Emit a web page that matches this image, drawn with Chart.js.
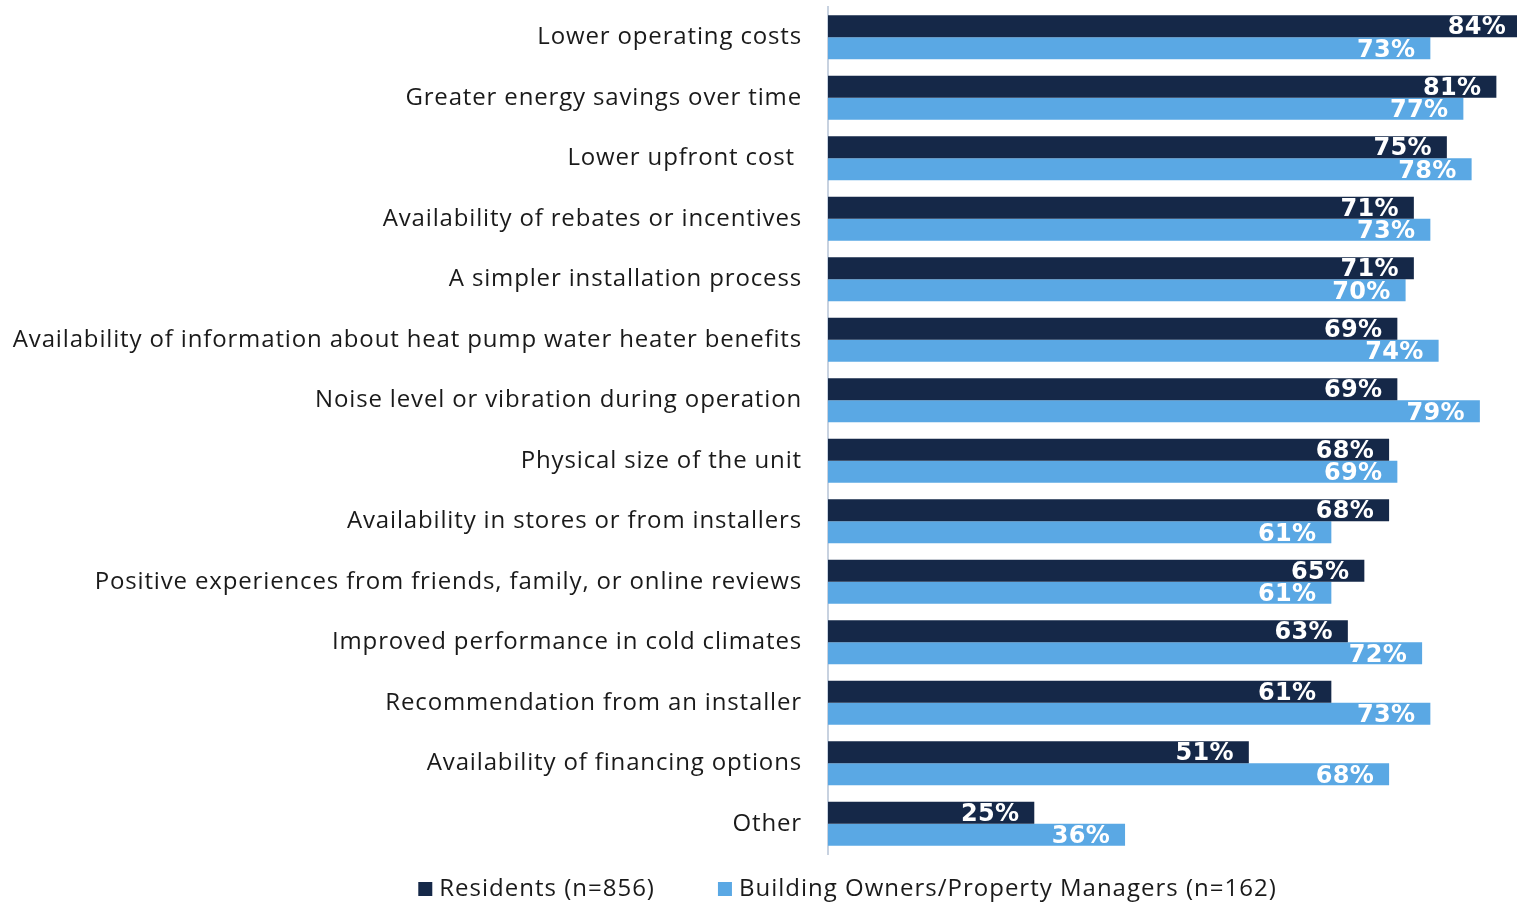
<!DOCTYPE html>
<html>
<head>
<meta charset="utf-8">
<script src="https://cdn.jsdelivr.net/npm/chart.js@4"></script>
<style>
  html, body { margin:0; padding:0; background:#fff; }
  #wrap { width:1517px; height:903px; }
</style>
</head>
<body>
<div id="wrap"><canvas id="grafico"></canvas></div>
<script>
// Datos
const categorias = [
  "Lower operating costs",
  "Greater energy savings over time",
  "Lower upfront cost ",
  "Availability of rebates or incentives",
  "A simpler installation process",
  "Availability of information about heat pump water heater benefits",
  "Noise level or vibration during operation",
  "Physical size of the unit",
  "Availability in stores or from installers",
  "Positive experiences from friends, family, or online reviews",
  "Improved performance in cold climates",
  "Recommendation from an installer",
  "Availability of financing options",
  "Other"
];
const residentes   = [84, 81, 75, 71, 71, 69, 69, 68, 68, 65, 63, 61, 51, 25]; // %
const propietarios = [73, 77, 78, 73, 70, 74, 79, 69, 61, 61, 72, 73, 68, 36]; // %
const series = ['Residents (n=856)', 'Building Owners/Property Managers (n=162)'];
const colores = ['#152848', '#5aa8e4'];

const FUENTE = "'Open Sans', Lato, sans-serif";

// espaciado de letras un poco más abierto (la fuente original es más ancha)
const espaciado = {
  id: 'espaciado',
  beforeDraw(chart) { chart.ctx.letterSpacing = '0.85px'; },
  afterDraw(chart) { chart.ctx.letterSpacing = '0px'; }
};

// Etiquetas de valor dentro de la barra
const etiquetas = {
  id: 'etiquetas',
  afterDatasetsDraw(chart) {
    const ctx = chart.ctx;
    ctx.save();
    ctx.letterSpacing = '0.3px';
    ctx.font = "bold 24px 'DejaVu Sans', sans-serif";
    ctx.fillStyle = '#ffffff';
    ctx.textAlign = 'right';
    ctx.textBaseline = 'middle';
    chart.data.datasets.forEach((ds, i) => {
      chart.getDatasetMeta(i).data.forEach((el, j) => {
        ctx.fillText(ds.data[j] + '%', el.x - 15, el.y + 2);
      });
    });
    ctx.restore();
  }
};

// Leyenda inferior dibujada a mano (espaciado como el original)
const leyenda = {
  id: 'leyenda',
  afterDraw(chart) {
    const ctx = chart.ctx;
    ctx.save();
    ctx.letterSpacing = '1px';
    ctx.font = "24px " + FUENTE;
    ctx.textBaseline = 'middle';
    const caja = 14, sep = 7, hueco = 63;
    const anchos = chart.data.datasets.map(ds => ctx.measureText(ds.label).width);
    const total = anchos.reduce((a, w) => a + caja + sep + w, 0) + hueco * (anchos.length - 1);
    let x = chart.width / 2 + 89 - total / 2;
    const y = chart.height - 14;
    chart.data.datasets.forEach((ds, i) => {
      ctx.fillStyle = ds.backgroundColor;
      ctx.fillRect(x, y - caja / 2, caja, caja);
      ctx.fillStyle = '#1a1a1a';
      ctx.fillText(ds.label, x + caja + sep, y);
      x += caja + sep + anchos[i] + hueco;
    });
    ctx.restore();
  }
};

new Chart(document.getElementById('grafico').getContext('2d'), {
  type: 'bar',
  data: {
    labels: categorias,
    datasets: [
      { label: series[0], data: residentes, backgroundColor: colores[0] },
      { label: series[1], data: propietarios, backgroundColor: colores[1] }
    ]
  },
  options: {
    indexAxis: 'y',
    responsive: true,
    maintainAspectRatio: false,
    animation: false,
    layout: { padding: { top: 7, left: 0, right: 0, bottom: 49 } },
    datasets: { bar: { categoryPercentage: 0.73, barPercentage: 1.0 } },
    scales: {
      x: { display: false, min: 0, max: 83.5 },
      y: {
        afterFit(scale) {
          scale.width = 828;
          scale.paddingTop = 0;
          scale.paddingBottom = 0;
        },
        grid: { display: false, drawTicks: false },
        border: { display: true, color: '#c8d2e0', width: 2 },
        ticks: { padding: 26, color: '#1a1a1a', font: { family: FUENTE, size: 24 } }
      }
    },
    plugins: {
      legend: { display: false },
      tooltip: { enabled: false }
    }
  },
  plugins: [espaciado, etiquetas, leyenda]
});
</script>
</body>
</html>
